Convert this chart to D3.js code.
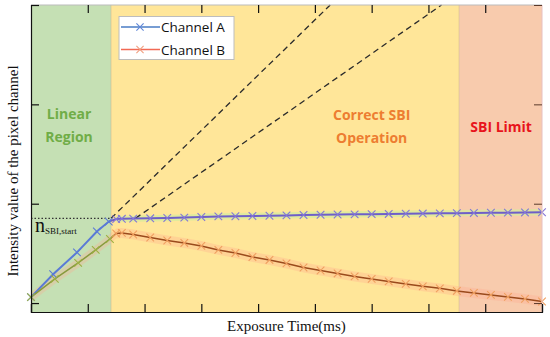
<!DOCTYPE html>
<html>
<head>
<meta charset="utf-8">
<script src="https://cdn.jsdelivr.net/npm/d3@7"></script>
<style>
  body { margin: 0; background: #fff; }
  svg { display: block; }
</style>
</head>
<body>
<div id="chart"></div>
<script>
// regions along the exposure axis
var regionNames = ['Linear Region', 'Correct SBI Operation', 'SBI Limit'];
var regionStart = [0, 1.41, 7.54];
var regionEnd = [1.41, 7.54, 9];
var regionFill = ['#c5e0b4', '#ffe699', '#f8cbad'];

// measured series
var channelA_x = [0, 0.39, 0.81, 1.16, 1.37, 1.5, 1.6, 1.8, 2.1, 2.4, 2.7, 3.0, 3.3, 3.6, 3.9, 4.2, 4.5, 4.8, 5.1, 5.4, 5.7, 6.0, 6.3, 6.6, 6.9, 7.2, 7.5, 7.8, 8.1, 8.4, 8.7, 9.0];
var channelA_y = [0.06, 0.29, 0.51, 0.72, 0.82, 0.845, 0.848, 0.85, 0.853, 0.856, 0.86, 0.866, 0.872, 0.874, 0.876, 0.879, 0.882, 0.886, 0.889, 0.891, 0.893, 0.895, 0.897, 0.899, 0.901, 0.903, 0.905, 0.907, 0.909, 0.91, 0.912, 0.914];
var channelB_x = [0, 0.42, 0.83, 1.14, 1.39, 1.5, 1.6, 1.8, 2.1, 2.4, 2.7, 3.0, 3.3, 3.6, 3.9, 4.2, 4.5, 4.8, 5.1, 5.4, 5.7, 6.0, 6.3, 6.6, 6.9, 7.2, 7.5, 7.8, 8.1, 8.4, 8.7, 9.0];
var channelB_y = [0.06, 0.243, 0.404, 0.535, 0.645, 0.7, 0.706, 0.69, 0.66, 0.63, 0.605, 0.575, 0.535, 0.504, 0.464, 0.434, 0.399, 0.358, 0.328, 0.298, 0.268, 0.243, 0.218, 0.193, 0.168, 0.148, 0.122, 0.102, 0.082, 0.062, 0.042, 0.016];

// reference lines
var sbiStartLevel = 0.853;
var dashA = [[1.41, 0.853], [5.27, 3.0]];
var dashB = [[1.84, 0.853], [7.23, 3.0]];

var xTicks = [0, 1, 2, 3, 4, 5, 6, 7, 8, 9];
var yTicks = [0, 1, 2, 3];

var width = 550, height = 337;
var margin = { top: 5, right: 8, bottom: 25, left: 31 };

var svg = d3.select('#chart').append('svg')
  .attr('width', width)
  .attr('height', height);

var x = d3.scaleLinear().domain([0, 9]).range([margin.left, width - margin.right]);
var y = d3.scaleLinear().domain([-0.09, 3]).range([height - margin.bottom, margin.top]);

var plotTop = y(3), plotBottom = y(-0.09);

// background regions
svg.selectAll('.region')
  .data(regionNames)
  .enter()
  .append('rect')
  .attr('class', 'region')
  .attr('x', function(d, i) { return x(regionStart[i]); })
  .attr('y', plotTop)
  .attr('width', function(d, i) { return x(regionEnd[i]) - x(regionStart[i]); })
  .attr('height', plotBottom - plotTop)
  .attr('fill', function(d, i) { return regionFill[i]; });

svg.selectAll('.region-edge')
  .data(regionStart.slice(1))
  .enter()
  .append('line')
  .attr('x1', function(d) { return x(d); })
  .attr('x2', function(d) { return x(d); })
  .attr('y1', plotTop)
  .attr('y2', plotBottom)
  .attr('stroke', '#c9b48a')
  .attr('stroke-opacity', 0.5);

var ptsA = channelA_x.map(function(v, i) { return { x: v, y: channelA_y[i] }; });
var ptsB = channelB_x.map(function(v, i) { return { x: v, y: channelB_y[i] }; });

// shaded bands around the curves
var bandA = d3.area()
  .x(function(d) { return x(d.x); })
  .y0(function(d) { return y(d.y - 0.032); })
  .y1(function(d) { return y(d.y + 0.032); });
svg.append('path')
  .datum(ptsA.filter(function(d) { return d.x >= 1.5; }))
  .attr('d', bandA)
  .attr('fill', '#d4ec9c')
  .attr('opacity', 0.7);

var bandB = d3.area()
  .x(function(d) { return x(d.x); })
  .y0(function(d) { return y(d.y - 0.05); })
  .y1(function(d) { return y(d.y + 0.05); });
svg.append('path')
  .datum(ptsB)
  .attr('d', bandB)
  .attr('fill', '#ffa98f')
  .attr('opacity', 0.3);

// dotted start level and dashed extrapolations
svg.append('line')
  .attr('x1', x(0)).attr('x2', x(regionEnd[0]))
  .attr('y1', y(sbiStartLevel)).attr('y2', y(sbiStartLevel))
  .attr('stroke', '#333')
  .attr('stroke-width', 1.2)
  .attr('stroke-dasharray', '1.5,2');

var straight = d3.line().x(function(d) { return x(d[0]); }).y(function(d) { return y(d[1]); });
[dashA, dashB].forEach(function(seg) {
  svg.append('path')
    .attr('d', straight(seg))
    .attr('fill', 'none')
    .attr('stroke', '#2b2b2b')
    .attr('stroke-width', 1.3)
    .attr('stroke-dasharray', '6,4');
});

// line colours change at the end of the linear region
var defs = svg.append('defs');
function addGradient(id, c1, c2) {
  var f = (x(regionEnd[0]) - x(0)) / (x(9) - x(0));
  var g = defs.append('linearGradient')
    .attr('id', id)
    .attr('gradientUnits', 'userSpaceOnUse')
    .attr('x1', x(0)).attr('x2', x(9))
    .attr('y1', 0).attr('y2', 0);
  g.append('stop').attr('offset', f).attr('stop-color', c1);
  g.append('stop').attr('offset', f).attr('stop-color', c2);
}
addGradient('gradA', '#5a7ad6', '#6e5fc8');
addGradient('gradB', '#879a3c', '#9a4a1c');

var line = d3.line().x(function(d) { return x(d.x); }).y(function(d) { return y(d.y); });

svg.append('path')
  .datum(ptsA)
  .attr('d', line)
  .attr('fill', 'none')
  .attr('stroke', 'url(#gradA)')
  .attr('stroke-width', 2);

svg.append('path')
  .datum(ptsB)
  .attr('d', line)
  .attr('fill', 'none')
  .attr('stroke', 'url(#gradB)')
  .attr('stroke-width', 1.5);

function crossPath(cx, cy, r) {
  return 'M' + (cx - r) + ',' + (cy - r) + 'L' + (cx + r) + ',' + (cy + r) +
    'M' + (cx - r) + ',' + (cy + r) + 'L' + (cx + r) + ',' + (cy - r);
}

svg.selectAll('.markA')
  .data(ptsA)
  .enter()
  .append('path')
  .attr('class', 'markA')
  .attr('d', function(d) { return crossPath(x(d.x), y(d.y), 3.8); })
  .attr('stroke', function(d) { return d.x < regionEnd[0] ? '#5a7ad6' : '#8577d6'; })
  .attr('stroke-width', 1.1);

svg.selectAll('.markB')
  .data(ptsB)
  .enter()
  .append('path')
  .attr('class', 'markB')
  .attr('d', function(d) { return crossPath(x(d.x), y(d.y), 3.8); })
  .attr('stroke', function(d) { return d.x < regionEnd[0] ? '#9cb042' : '#f0a060'; })
  .attr('stroke-width', 1.1);

// frame and inward ticks
svg.append('line')
  .attr('x1', x(0)).attr('x2', x(9)).attr('y1', plotTop).attr('y2', plotTop)
  .attr('stroke', '#bbb');
svg.append('line')
  .attr('x1', x(9)).attr('x2', x(9)).attr('y1', plotTop).attr('y2', plotBottom)
  .attr('stroke', '#e8c0c0');

var gx = svg.append('g')
  .attr('transform', 'translate(0,' + plotBottom + ')')
  .call(d3.axisBottom(x).tickValues(xTicks).tickSize(-8).tickFormat(''));
var gxTop = svg.append('g')
  .attr('transform', 'translate(0,' + plotTop + ')')
  .call(d3.axisTop(x).tickValues(xTicks.slice(1, -1)).tickSize(-8).tickFormat(''));
gxTop.select('.domain').remove();

var gy = svg.append('g')
  .attr('transform', 'translate(' + x(0) + ',0)')
  .call(d3.axisLeft(y).tickValues(yTicks).tickSize(-8).tickFormat(''));
var gyRight = svg.append('g')
  .attr('transform', 'translate(' + x(9) + ',0)')
  .call(d3.axisRight(y).tickValues(yTicks).tickSize(-8).tickFormat(''));
gyRight.select('.domain').remove();
gyRight.selectAll('line').attr('stroke', '#5a3a2a');

[gx, gy].forEach(function(g) {
  g.select('.domain').attr('stroke', '#111').attr('stroke-width', 1.2);
});
[gx, gxTop, gy].forEach(function(g) {
  g.selectAll('.tick line').attr('stroke', '#111').attr('stroke-width', 1.2);
});

// region labels
var sans = '"Open Sans", sans-serif';
var labelLines = [['Linear', 'Region'], ['Correct SBI', 'Operation'], ['SBI Limit']];
var labelColor = ['#70ad47', '#ed7d31', '#e8141c'];
var labelX = [0.67, 6.0, 8.28];
var labelY = [[1.848, 1.622], [1.843, 1.611], [1.725]];
labelLines.forEach(function(lines, i) {
  lines.forEach(function(t, j) {
    svg.append('text')
      .attr('x', x(labelX[i]))
      .attr('y', y(labelY[i][j]))
      .attr('text-anchor', 'middle')
      .attr('font-family', sans)
      .attr('font-weight', 'bold')
      .attr('font-size', 14)
      .attr('fill', labelColor[i])
      .text(t);
  });
});

// n_SBI,start annotation
var nLab = svg.append('text')
  .attr('x', 35)
  .attr('y', 232)
  .attr('font-family', '"Liberation Serif", serif')
  .attr('fill', '#111');
nLab.append('tspan').attr('font-size', 20).text('n');
nLab.append('tspan').attr('font-size', 9).attr('dy', 2).text('SBI,start');

// axis titles
svg.append('text')
  .attr('x', (x(0) + x(9)) / 2)
  .attr('y', 331)
  .attr('text-anchor', 'middle')
  .attr('font-family', '"Liberation Serif", serif')
  .attr('font-size', 15)
  .attr('fill', '#111')
  .text('Exposure Time(ms)');

svg.append('text')
  .attr('transform', 'translate(17.5,171) rotate(-90)')
  .attr('text-anchor', 'middle')
  .attr('font-family', '"Liberation Serif", serif')
  .attr('font-size', 15)
  .attr('fill', '#111')
  .text('Intensity value of the pixel channel');

// legend
var legendNames = ['Channel A', 'Channel B'];
var legendLine = ['#4a7cc4', '#f26a55'];
var legendMark = ['#5f86d8', '#f0a080'];
var leg = svg.append('g').attr('transform', 'translate(119,16.5)');
leg.append('rect')
  .attr('width', 115).attr('height', 43)
  .attr('fill', '#fff')
  .attr('stroke', '#bdbdbd');
legendNames.forEach(function(name, i) {
  var ry = 10.5 + i * 22.5;
  leg.append('line')
    .attr('x1', 2).attr('x2', 41).attr('y1', ry).attr('y2', ry)
    .attr('stroke', legendLine[i]).attr('stroke-width', 1.5);
  leg.append('path')
    .attr('d', crossPath(21, ry, 3.6))
    .attr('stroke', legendMark[i]).attr('stroke-width', 1.1);
  leg.append('text')
    .attr('x', 42).attr('y', ry + 5)
    .attr('font-family', sans)
    .attr('font-size', 13.5)
    .attr('fill', '#111')
    .text(name);
});
</script>
</body>
</html>
